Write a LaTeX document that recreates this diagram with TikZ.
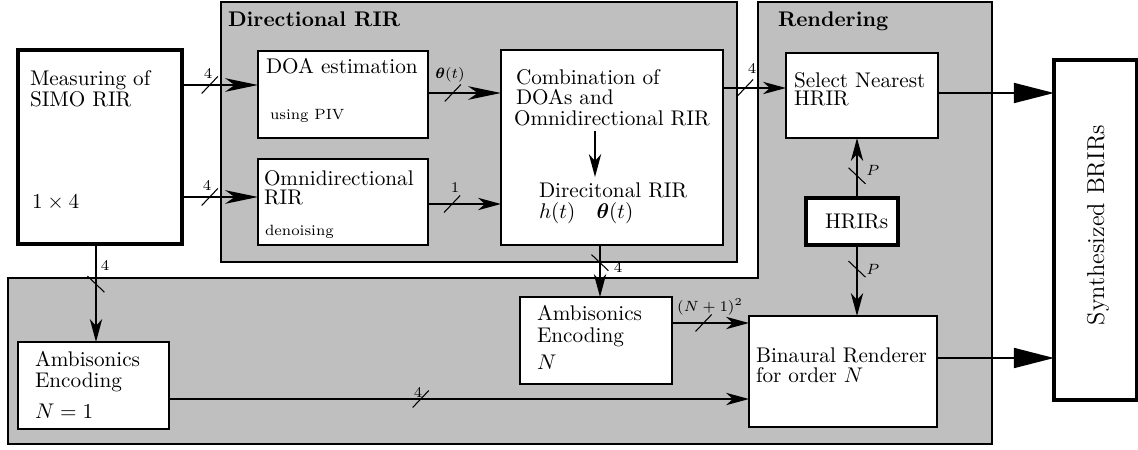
\documentclass[tikz,border=0pt]{standalone}
\usepackage{amsmath}
\usetikzlibrary{fit,arrows.meta,decorations.markings}
\begin{document}
\begin{tikzpicture}[x=0.4717pt,y=-0.4717pt,
  region/.style={draw=black, line width=0.8pt, fill=black!25},
  box/.style={draw=black, fill=white, line width=0.9pt, inner sep=0pt, outer sep=0pt},
  thickbox/.style={box, line width=2pt},
  txt/.style={inner sep=0pt, outer sep=0pt, anchor=base west, font=\fontsize{10}{12}\selectfont},
  ttl/.style={inner sep=0pt, outer sep=0pt, anchor=base west, font=\fontsize{10}{12}\selectfont\bfseries},
  small/.style={inner sep=0pt, outer sep=0pt, anchor=base west, font=\fontsize{7}{8}\selectfont},
  lab/.style={inner sep=0pt, outer sep=0pt, anchor=center, font=\fontsize{7}{8}\selectfont},
  conn/.style={line width=0.9pt, -{Stealth[length=10.8pt,width=5.8pt,inset=3.2pt]}},
  bigconn/.style={line width=0.9pt, -{Stealth[length=15.5pt,width=6.4pt,inset=4.5pt]}},
  outconn/.style={line width=0.9pt, -{Triangle[length=18.9pt,width=9.4pt]}},
  bus/.style={postaction={decorate, decoration={markings, mark=at position #1 with {\draw[-, line width=0.5pt] (-3.8pt,-4pt) -- (3.8pt,4pt);}}}},
]
\useasboundingbox (0,0) rectangle (1138,449);

% grey regions
\node[region, inner sep=0pt, outer sep=0pt, fit={(221,2) (737,262)}] (dirreg) {};
\draw[region] (758,2) -- (992,2) -- (992,444) -- (8,444) -- (8,278) -- (758,278) -- cycle;
\node[ttl] (ttldir) at (228,27) {Directional RIR};
\node[ttl] (ttlren) at (778,27) {Rendering};

% boxes
\node[thickbox, fit={(18,50) (182,244)}] (meas) {};
\node[box, fit={(258,51) (428,138)}] (doa) {};
\node[box, fit={(258,159) (428,245)}] (omni) {};
\node[box, fit={(501,50) (723,245)}] (comb) {};
\node[box, fit={(786,53) (938,138)}] (sel) {};
\node[thickbox, fit={(806,198) (898,245)}] (hrirs) {};
\node[box, fit={(520,297) (672,384)}] (ambn) {};
\node[box, fit={(749,316) (937,427)}] (bin) {};
\node[box, fit={(18,342) (169,429)}] (amb1) {};
\node[thickbox, fit={(1054,60) (1137,400)}] (synth) {};

% texts
\node[txt] (m1) at (30,85) {Measuring of};
\node[txt] (m2) at (30,106) {SIMO RIR};
\node[txt] (m3) at (32,208) {$1\times 4$};
\node[txt] (doa1) at (266,73) {DOA estimation};
\node[small] (doa2) at (270,119) {using PIV};
\node[txt] (om1) at (264,185) {Omnidirectional};
\node[txt] (om2) at (264,204) {RIR};
\node[small] (om3) at (265,235) {denoising};
\node[txt] (c1) at (516,84) {Combination of};
\node[txt] (c2) at (516,104) {DOAs and};
\node[txt] (c3) at (514,125) {Omnidirectional RIR};
\node[txt] (d1) at (539,197) {Direcitonal RIR};
\node[txt] (d2) at (539,218) {$h(t)\quad\boldsymbol{\theta}(t)$};
\node[txt] (s1) at (794,87) {Select Nearest};
\node[txt] (s2) at (794,105) {HRIR};
\node[txt] (hr) at (825,228) {HRIRs};
\node[txt] (an1) at (537,320) {Ambisonics};
\node[txt] (an2) at (537,342) {Encoding};
\node[txt] (an3) at (537,369) {$N$};
\node[txt] (b1) at (756,362) {Binaural Renderer};
\node[txt] (b2) at (756,382) {for order $N$};
\node[txt] (a11) at (35,366) {Ambisonics};
\node[txt] (a12) at (35,387) {Encoding};
\node[txt] (a13) at (35,418) {$N=1$};
\node[inner sep=0pt, rotate=90, anchor=base, font=\fontsize{11.5}{13}\selectfont] (syn) at (1104,225) {Synthesized BRIRs};

% connectors
\draw[bigconn, bus=0.365] (meas.east |- 0,85) -- (doa.west |- 0,85);
\draw[bigconn, bus=0.365] (meas.east |- 0,197) -- (omni.west |- 0,197);
\draw[bigconn, bus=0.34] (doa.east |- 0,93) -- (comb.west |- 0,93);
\draw[conn, bus=0.33] (omni.east |- 0,204) -- (comb.west |- 0,204);
\draw[conn, bus=0.35] (comb.east |- 0,88) -- (sel.west |- 0,88);
\draw[outconn] (sel.east |- 0,93) -- (synth.west |- 0,93);
\draw[outconn] (bin.east |- 0,358) -- (synth.west |- 0,358);
\draw[conn, bus=0.37] (hrirs.north -| 857,0) -- (sel.south -| 857,0);
\draw[conn, bus=0.34] (hrirs.south -| 857,0) -- (bin.north -| 857,0);
\draw[conn, bus=0.41] (meas.south -| 96,0) -- (amb1.north -| 96,0);
\draw[conn, bus=0.34] (comb.south -| 600,0) -- (ambn.north -| 600,0);
\draw[conn, bus=0.41] (ambn.east |- 0,323) -- (bin.west |- 0,323);
\draw[conn, bus=0.434] (amb1.east |- 0,399) -- (bin.west |- 0,399);
\coordinate (cin1) at (595,131);
\coordinate (cin2) at (595,177);
\draw[conn] (cin1) -- (cin2);

% connector labels
\node[lab] (l1) at (208,73) {4};
\node[lab] (l2) at (207,185) {4};
\node[lab] (l3) at (450,75) {$\boldsymbol{\theta}(t)$};
\node[lab] (l4) at (455,188) {1};
\node[lab] (l5) at (752,68) {4};
\node[lab] (l6) at (105,265) {4};
\node[lab] (l7) at (618,267) {4};
\node[lab] (l8) at (873,170) {$P$};
\node[lab] (l9) at (873,269) {$P$};
\node[lab] (l10) at (710,307) {$(N+1)^2$};
\node[lab] (l11) at (418,392) {4};
\end{tikzpicture}
\end{document}
